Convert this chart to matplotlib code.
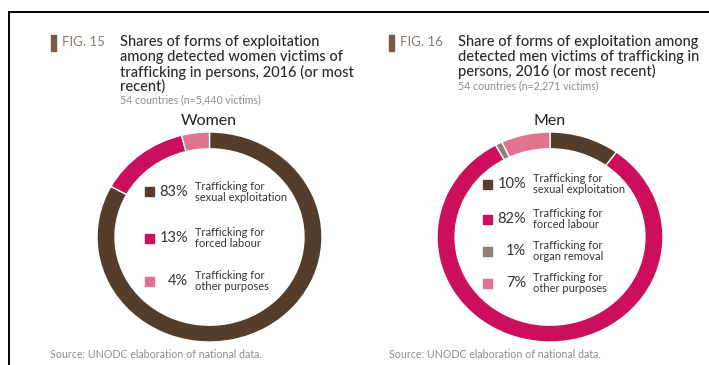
import matplotlib
matplotlib.use("Agg")
import matplotlib.pyplot as plt
from matplotlib.lines import Line2D
from matplotlib.patches import Rectangle

W, H = 709, 365

# ---- data ----
women_labels = ["Trafficking for\nsexual exploitation", "Trafficking for\nforced labour",
                "Trafficking for\nother purposes"]
women_values = [83, 13, 4]
men_labels = ["Trafficking for\nsexual exploitation", "Trafficking for\nforced labour",
              "Trafficking for\norgan removal", "Trafficking for\nother purposes"]
men_values = [10, 82, 1, 7]

BROWN = "#553d2b"
MAGENTA = "#cc0f5c"
GREY = "#8c8077"
PINK = "#e27390"
women_colors = [BROWN, MAGENTA, PINK]
men_colors = [BROWN, MAGENTA, GREY, PINK]

fig1_tag, fig2_tag = "FIG. 15", "FIG. 16"
title1 = ["Shares of forms of exploitation", "among detected women victims of",
          "trafficking in persons, 2016 (or most", "recent)"]
title2 = ["Share of forms of exploitation among", "detected men victims of trafficking in",
          "persons, 2016 (or most recent)"]
sub1 = "54 countries (n=5,440 victims)"
sub2 = "54 countries (n=2,271 victims)"
source = "Source: UNODC elaboration of national data."

FONT = ["Lato", "DejaVu Sans"]
plt.rcParams["font.family"] = FONT

fig = plt.figure(figsize=(W / 100, H / 100), dpi=100)


def fx(x):
    return x / W


def fy(y):
    return 1 - y / H


# border
fig.add_artist(Line2D([fx(9), fx(709)], [fy(12), fy(12)], color="black", lw=1.4))
fig.add_artist(Line2D([fx(9), fx(9)], [fy(12), fy(365)], color="black", lw=1.4))


def header(x0, tag, lines, sub, line_y, sub_y):
    fig.add_artist(Rectangle((fx(x0), fy(51)), 5 / W, 16 / H, color="#7a5a45",
                             transform=fig.transFigure))
    fig.text(fx(x0 + 11), fy(line_y[0]), tag, fontsize=9.5, color="#8a7a70",
             va="center", ha="left")
    for ln, yy in zip(lines, line_y):
        fig.text(fx(x0 + 69), fy(yy), ln, fontsize=10.5, color="#2a2a2a",
                 va="center", ha="left", fontweight="medium")
    fig.text(fx(x0 + 69), fy(sub_y), sub, fontsize=7.6, color="#8c8c8c",
             va="center", ha="left")


header(51, fig1_tag, title1, sub1, [42, 57, 72, 86], 100)
header(389, fig2_tag, title2, sub2, [42, 57, 71], 86)

fig.text(fx(50), fy(354), source, fontsize=7.7, color="#8c8c8c", va="center")
fig.text(fx(389), fy(354), source, fontsize=7.7, color="#8c8c8c", va="center")


def donut(x0, x1, y0, y1, values, colors, title, title_x):
    ax = fig.add_axes([fx(x0), fy(y1), (x1 - x0) / W, (y1 - y0) / H])
    ax.pie(values, colors=colors, startangle=90, counterclock=False, radius=1,
           wedgeprops=dict(width=0.16, edgecolor="white", linewidth=1.0))
    ax.set_aspect("auto")
    ax.set_xlim(-1, 1)
    ax.set_ylim(-1, 1)
    ax.axis("off")
    fig.text(fx(title_x), fy(121), title, fontsize=11.5, color="#222222",
             ha="center", va="center")
    return ax


donut(97, 322, 132, 342, women_values, women_colors, "Women", 209)
donut(437, 663, 132, 342, men_values, men_colors, "Men", 550)


def legend(sq_x, pct_right, lab_x, rows_y, values, labels, colors):
    for v, lab, c, yy in zip(values, labels, colors, rows_y):
        fig.add_artist(Rectangle((fx(sq_x), fy(yy + 4.5)), 9 / W, 9 / H, color=c,
                                 transform=fig.transFigure))
        fig.text(fx(pct_right), fy(yy), f"{v}%", fontsize=10.5, color="#333333",
                 ha="right", va="center")
        fig.text(fx(lab_x), fy(yy), lab, fontsize=8, color="#333333",
                 ha="left", va="center", linespacing=1.05)


legend(145, 188, 195, [192, 238, 281], women_values, women_labels, women_colors)
legend(483, 526, 533, [184, 219, 251, 283], men_values, men_labels, men_colors)

fig.savefig("out.png", dpi=100, facecolor="white")
